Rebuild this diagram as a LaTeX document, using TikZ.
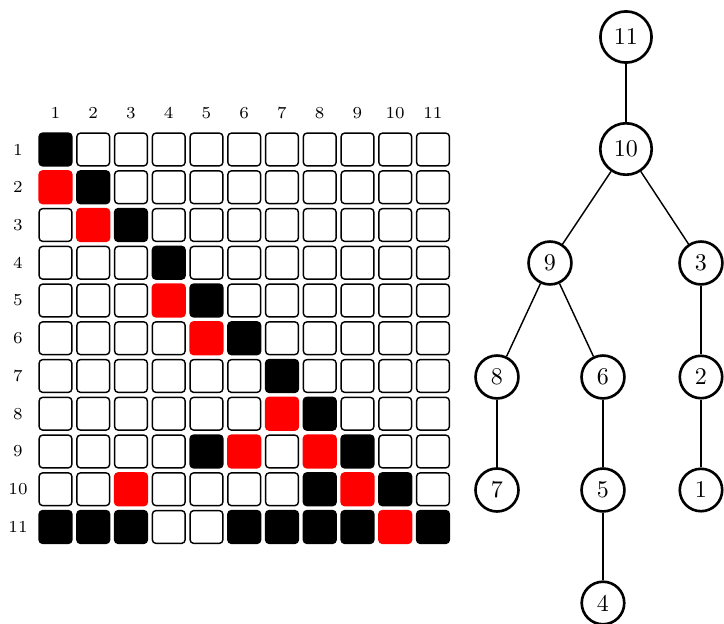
\documentclass[tikz,border=0pt]{standalone}
\begin{document}
\begin{tikzpicture}[x=0.4167pt,y=-0.4167pt,
  cell/.style={draw=black,line width=0.6pt,rounded corners=1.4pt,minimum size=13.6pt,inner sep=0pt},
  wht/.style={cell,fill=white},
  blk/.style={cell,fill=black},
  rdc/.style={cell,fill=red,draw=red},
  lbl/.style={font=\scriptsize,inner sep=0pt},
  tn/.style={circle,draw,line width=1.1pt},
  edge/.style={line width=0.6pt}]
\useasboundingbox (0,0) rectangle (724,624);
% grid
\foreach \r/\row in {
 1/{blk,wht,wht,wht,wht,wht,wht,wht,wht,wht,wht},
 2/{rdc,blk,wht,wht,wht,wht,wht,wht,wht,wht,wht},
 3/{wht,rdc,blk,wht,wht,wht,wht,wht,wht,wht,wht},
 4/{wht,wht,wht,blk,wht,wht,wht,wht,wht,wht,wht},
 5/{wht,wht,wht,rdc,blk,wht,wht,wht,wht,wht,wht},
 6/{wht,wht,wht,wht,rdc,blk,wht,wht,wht,wht,wht},
 7/{wht,wht,wht,wht,wht,wht,blk,wht,wht,wht,wht},
 8/{wht,wht,wht,wht,wht,wht,rdc,blk,wht,wht,wht},
 9/{wht,wht,wht,wht,blk,rdc,wht,rdc,blk,wht,wht},
 10/{wht,wht,rdc,wht,wht,wht,wht,blk,rdc,blk,wht},
 11/{blk,blk,blk,wht,wht,blk,blk,blk,blk,rdc,blk}}{
  \foreach \s [count=\c] in \row {
    \node[\s] (c\r-\c) at ({55.5+37.75*(\c-1)},{149.5+37.75*(\r-1)}) {};
  }
  \node[lbl] (rl\r) at (18,{149.5+37.75*(\r-1)}) {\r};
  \node[lbl] (cl\r) at ({55.5+37.75*(\r-1)},113) {\r};
}
% tree
\node[tn] (n11) at (626,37) {11};
\node[tn] (n10) at (626,149) {10};
\node[tn] (n9) at (550,263) {9};
\node[tn] (n3) at (701,263) {3};
\node[tn] (n8) at (497,377) {8};
\node[tn] (n6) at (603,377) {6};
\node[tn] (n2) at (701,377) {2};
\node[tn] (n7) at (497,490) {7};
\node[tn] (n5) at (603,490) {5};
\node[tn] (n1) at (701,490) {1};
\node[tn] (n4) at (603,603) {4};
\draw[edge] (n11) -- (n10);
\draw[edge] (n10) -- (n9);
\draw[edge] (n10) -- (n3);
\draw[edge] (n9) -- (n8);
\draw[edge] (n9) -- (n6);
\draw[edge] (n3) -- (n2);
\draw[edge] (n8) -- (n7);
\draw[edge] (n6) -- (n5);
\draw[edge] (n2) -- (n1);
\draw[edge] (n5) -- (n4);
\end{tikzpicture}
\end{document}
